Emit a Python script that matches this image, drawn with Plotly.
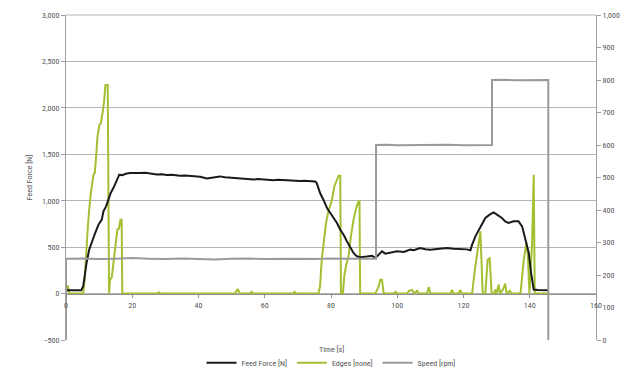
import plotly.graph_objects as go

# ---- data ----
force_t = [0, 1, 2, 3, 4, 4.6, 5.2, 5.7, 6.2, 7.0, 7.8, 8.8, 9.8, 10.8, 11.3, 12.1, 12.8, 13.5, 14.3,
           15.1, 16.1, 17.0, 18.0, 19.3, 21.0, 22.3, 24.0, 25.5, 27.4, 29.0, 30.4, 32.0, 34.4, 36.0,
           38.0, 40.5, 42.5, 43.7, 45.0, 46.5, 48.0, 50.5, 52.0, 54.0, 56.6, 58.0, 60.0, 62.6, 64.0,
           66.0, 68.0, 70.7, 72.0, 74.0, 75.2, 75.7, 76.7, 77.7, 78.8, 79.8, 80.8, 81.8, 82.8, 83.8,
           84.8, 85.8, 86.8, 87.8, 88.8, 90.8, 92.4, 93.4, 94.4, 95.4, 96.4, 98.0, 99.9, 102.0,
           103.9, 105.0, 106.9, 108.5, 110.0, 112.0, 113.5, 115.0, 117.0, 119.1, 121.0, 122.1,
           122.6, 123.6, 124.6, 125.6, 126.6, 127.9, 129.1, 130.1, 131.6, 132.6, 133.6, 135.1,
           136.6, 137.7, 138.7, 139.7, 140.4, 141.2, 142.5, 144.0, 145.6]
force_v = [36, 34, 36, 35, 37, 36, 80, 222, 330, 473, 563, 652, 742, 796, 885, 939, 1011, 1083, 1136,
           1208, 1280, 1275, 1290, 1298, 1302, 1298, 1300, 1292, 1282, 1285, 1278, 1280, 1268, 1272,
           1265, 1258, 1240, 1246, 1250, 1262, 1252, 1244, 1238, 1232, 1228, 1234, 1226, 1220, 1226,
           1222, 1214, 1212, 1216, 1208, 1208, 1190, 1083, 1011, 921, 868, 814, 760, 688, 634,
           563, 491, 437, 401, 392, 400, 408, 383, 419, 455, 430, 440, 455, 448,
           473, 466, 491, 478, 473, 480, 486, 491, 484, 480, 476, 466,
           527, 616, 688, 760, 814, 850, 874, 850, 814, 778, 760, 778,
           778, 724, 580, 437, 222, 43, 38, 36, 36]

edge_t = [0, 0.3, 0.6, 1.0, 5.0, 5.2, 5.7, 6.2, 6.6, 7.0, 7.5, 8.3, 8.7, 9.1, 9.5, 10.1, 10.5, 11.1, 11.5,
          11.9, 12.6, 13.0, 13.3, 13.8, 14.3, 14.8, 15.5, 16.0, 16.4, 16.8, 17.0, 27.5, 28.0, 28.5,
          51.0, 51.8, 52.5, 55.5, 56.0, 56.5, 68.5, 69.0, 69.5, 76.2, 76.7, 77.2, 77.9, 78.5, 79.2,
          80.3, 81.0, 81.8, 82.3, 82.8, 83.0, 83.6, 84.0, 84.6, 85.3, 86.0, 86.8, 87.6, 88.3, 88.6,
          88.8, 93.4, 94.4, 94.9, 95.4, 95.9, 99.0, 99.5, 100.0, 103.0, 103.5, 104.5, 105.0, 106.0,
          106.5, 109.0, 109.5, 110.0, 116.0, 116.5, 117.0, 118.5, 119.0, 119.5, 122.6, 123.4, 124.4,
          125.1, 125.8, 126.6, 127.3, 127.9, 128.5, 129.2, 129.6, 130.0, 130.6, 131.0, 132.0, 132.6,
          133.0, 134.0, 134.5, 137.2, 138.2, 139.0, 139.4, 139.9, 140.7, 141.2, 141.5, 146.0]
edge_v = [0, 80, 80, 0, 0, 7, 186, 580, 720, 903, 1083, 1280, 1300, 1476, 1691, 1817, 1830, 1960, 2068,
          2247, 2247, 0, 150, 170, 330, 509, 688, 700, 796, 796, 0, 0, 15, 0,
          0, 50, 0, 0, 20, 0, 0, 20, 0, 0, 79, 366, 616, 760, 885,
          1011, 1154, 1226, 1269, 1269, 0, 0, 186, 312, 401, 616, 796, 921, 993, 993,
          0, 0, 79, 150, 150, 0, 0, 20, 0, 0, 30, 40, 0, 30,
          0, 0, 70, 0, 0, 40, 0, 0, 40, 0, 0, 250, 500,
          670, 0, 0, 366, 380, 0, 0, 43, 0, 97, 0, 50, 108,
          0, 30, 0, 0, 366, 545, 430, 0, 545, 1280, 0, 0]

speed_t = [0, 0, 5, 10, 15, 20, 25, 30, 35, 40, 45, 50, 55, 60, 65, 70, 75, 80, 85, 90, 93.6,
           93.6, 97, 100, 105, 110, 115, 120, 125, 128.6, 128.6, 132, 136, 140, 143, 145.6, 145.6]
speed_v = [0, 250, 251, 249, 250, 252, 250, 249, 251, 250, 248, 250, 251, 249, 250, 250, 249, 251, 250, 249, 250,
           600, 601, 599, 600, 600, 601, 599, 600, 600, 800, 801, 799, 800, 800, 800, 0]

x_ticks = [0, 20, 40, 60, 80, 100, 120, 140, 160]

FONT = "Liberation Sans Narrow, Roboto Condensed, Liberation Sans, Arial, sans-serif"
TXT = "#555555"

fig = go.Figure()
fig.add_trace(go.Scatter(x=edge_t, y=edge_v, mode="lines", name="Edges [none]",
                         line=dict(color="#a3c032", width=2), legendrank=2))
fig.add_trace(go.Scatter(x=force_t, y=force_v, mode="lines", name="Feed Force [N]",
                         line=dict(color="#1a1a1a", width=2), legendrank=1))
fig.add_trace(go.Scatter(x=speed_t, y=speed_v, mode="lines", name="Speed [rpm]", yaxis="y2",
                         line=dict(color="#9a9a9a", width=2), legendrank=3))

tickfont = dict(family=FONT, size=8, color=TXT)
fig.update_layout(
    width=620, height=377,
    margin=dict(l=66, r=24, t=15, b=37, autoexpand=False),
    paper_bgcolor="white", plot_bgcolor="white",
    font=dict(family=FONT, size=8, color=TXT),
    showlegend=True,
    legend=dict(orientation="h", x=0.5, xanchor="center", y=-0.07, yanchor="middle",
                font=dict(family=FONT, size=8, color=TXT), itemwidth=30,
                traceorder="normal"),
    xaxis=dict(range=[0, 160], tickvals=x_ticks, ticktext=[str(v) for v in x_ticks],
               showgrid=False, zeroline=False, showline=True, linecolor="#909090", linewidth=1,
               ticks="outside", ticklen=3, tickcolor="#909090", automargin=False,
               anchor="free", position=(340 - 294) / 325, tickfont=tickfont),
    yaxis=dict(range=[-500, 3000], dtick=500, tickformat=",", showgrid=True,
               gridcolor="#b5b5b5", gridwidth=1, zeroline=False, showline=True,
               linecolor="#a0a0a0", linewidth=1, ticks="outside", ticklen=4, tickcolor="#a0a0a0",
               tickfont=tickfont, automargin=False,
               title=dict(text="Feed Force [N]", font=dict(family=FONT, size=8, color=TXT),
                          standoff=8)),
    yaxis2=dict(range=[0, 1000], dtick=100, tickformat=",", overlaying="y", side="right",
                showgrid=False, zeroline=False, showline=True, linecolor="#a0a0a0", linewidth=1,
                ticks="outside", ticklen=4, tickcolor="#a0a0a0", tickfont=tickfont, anchor="x",
                automargin=False),
    annotations=[dict(text="Time [s]", x=0.5, xref="paper", y=-0.01, yref="paper",
                      yanchor="top", showarrow=False,
                      font=dict(family=FONT, size=8, color=TXT))],
    shapes=[dict(type="line", xref="paper", yref="paper", x0=0, x1=1, y0=1, y1=1,
                 line=dict(color="#b5b5b5", width=1), layer="below")],
)

fig.write_html("out.html", config={"displayModeBar": False},
               post_script="document.body.style.margin='0';document.body.style.overflow='hidden';")
